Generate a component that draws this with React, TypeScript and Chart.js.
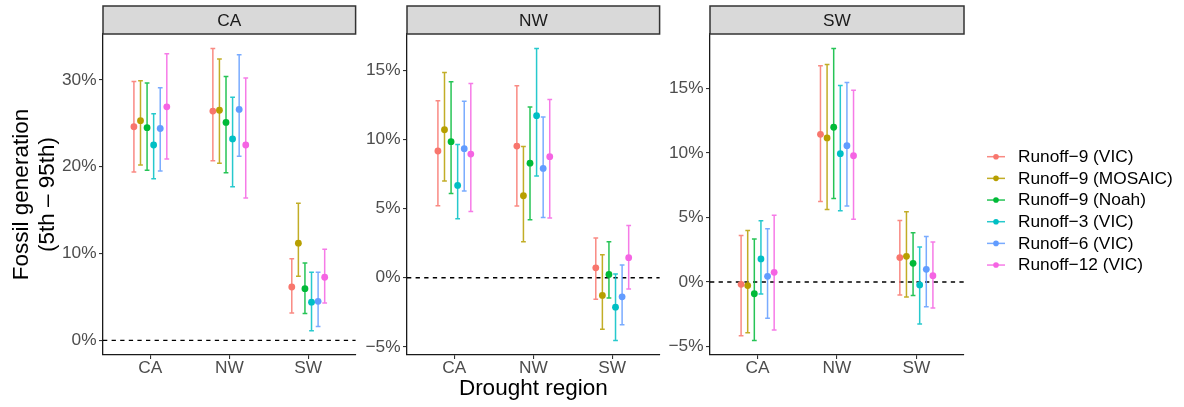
import React, { useEffect, useRef } from "react";
import { Chart, registerables } from "chart.js";

Chart.register(...registerables);

// ---------- data ----------
const regions = ["CA", "NW", "SW"]; // x-axis categories (drought region)
const panelTitles = ["CA", "NW", "SW"]; // facet strips

const seriesNames = [
  "Runoff\u22129 (VIC)",
  "Runoff\u22129 (MOSAIC)",
  "Runoff\u22129 (Noah)",
  "Runoff\u22123 (VIC)",
  "Runoff\u22126 (VIC)",
  "Runoff\u221212 (VIC)",
];
const seriesColors = ["#F8766D", "#B79F00", "#00BA38", "#00BFC4", "#619CFF", "#F564E3"];
const barColors = [
  "rgba(248,118,109,0.85)",
  "rgba(183,159,0,0.85)",
  "rgba(0,186,56,0.85)",
  "rgba(0,191,196,0.85)",
  "rgba(97,156,255,0.85)",
  "rgba(245,100,227,0.85)",
];

// Panel CA — rows: series, cols: regions [CA, NW, SW]
const caMid = [
  [24.6, 26.4, 6.15],
  [25.3, 26.5, 11.2],
  [24.5, 25.1, 5.96],
  [22.5, 23.2, 4.4],
  [24.4, 26.6, 4.5],
  [26.9, 22.5, 7.27],
];
const caLow = [
  [19.4, 20.7, 3.15],
  [20.2, 20.4, 7.4],
  [19.6, 19.3, 3.1],
  [18.6, 17.7, 1.1],
  [19.5, 21.2, 1.6],
  [20.9, 16.4, 4.3],
];
const caHigh = [
  [29.8, 33.6, 9.4],
  [29.9, 32.4, 15.8],
  [29.65, 30.4, 8.9],
  [26.1, 28.0, 7.85],
  [29.1, 32.9, 7.85],
  [33.0, 30.2, 10.5],
];

// Panel NW
const nwMid = [
  [9.18, 9.54, 0.72],
  [10.72, 5.94, -1.28],
  [9.86, 8.3, 0.24],
  [6.69, 11.74, -2.13],
  [9.35, 7.92, -1.38],
  [8.96, 8.77, 1.45],
];
const nwLow = [
  [5.22, 5.2, -1.55],
  [7.0, 2.6, -3.74],
  [6.1, 4.2, -1.47],
  [4.28, 7.37, -4.54],
  [6.28, 4.37, -3.4],
  [4.8, 4.32, -0.82],
];
const nwHigh = [
  [12.83, 13.9, 2.87],
  [14.86, 9.5, 1.67],
  [14.2, 12.37, 2.6],
  [9.66, 16.6, 0.27],
  [12.78, 11.64, 0.92],
  [14.08, 12.92, 3.79],
];

// Panel SW
const swMid = [
  [-0.18, 11.45, 1.89],
  [-0.28, 11.17, 1.99],
  [-0.91, 12.0, 1.45],
  [1.79, 9.95, -0.23],
  [0.44, 10.57, 0.98],
  [0.75, 9.79, 0.49],
];
const swLow = [
  [-4.17, 6.24, -1.01],
  [-3.94, 5.62, -1.17],
  [-4.53, 6.48, -1.04],
  [-0.93, 5.52, -3.26],
  [-2.82, 5.9, -1.92],
  [-3.73, 4.87, -2.02],
];
const swHigh = [
  [3.6, 16.76, 4.77],
  [3.99, 16.87, 5.44],
  [3.34, 18.1, 3.81],
  [4.74, 15.23, 2.72],
  [4.12, 15.47, 3.52],
  [5.18, 14.87, 3.1],
];

const caTicks = [0, 10, 20, 30];
const nwTicks = [-5, 0, 5, 10, 15];
const swTicks = [-5, 0, 5, 10, 15];

const yTitle = ["Fossil generation", "(5th \u2013 95th)"];
const xTitle = "Drought region";

// ---------- styling ----------
const FONT = "'Liberation Sans', Arial, Helvetica, sans-serif";
const TICK_SIZE = 17.3;
const TITLE_SIZE = 22.5;
const DODGE = 0.5;
const CAP_HALF = 0.03;

type PanelCfg = {
  title: string;
  mid: number[][];
  low: number[][];
  high: number[][];
  ticks: number[];
  canvasLeft: number;
  canvasWidth: number;
  yAxisW: number;
  padRight: number;
  showYTitle: boolean;
  showXTitle: boolean;
  legend: boolean;
};

const panels: PanelCfg[] = [
  {
    title: panelTitles[0], mid: caMid, low: caLow, high: caHigh, ticks: caTicks,
    canvasLeft: 0, canvasWidth: 359, yAxisW: 103, padRight: 2,
    showYTitle: true, showXTitle: false, legend: false,
  },
  {
    title: panelTitles[1], mid: nwMid, low: nwLow, high: nwHigh, ticks: nwTicks,
    canvasLeft: 359, canvasWidth: 304, yAxisW: 48, padRight: 2,
    showYTitle: false, showXTitle: true, legend: false,
  },
  {
    title: panelTitles[2], mid: swMid, low: swLow, high: swHigh, ticks: swTicks,
    canvasLeft: 663, canvasWidth: 521, yAxisW: 47, padRight: 220,
    showYTitle: false, showXTitle: false, legend: true,
  },
];

const decorPlugin = {
  id: "panelDecor",
  beforeDatasetsDraw(chart: any) {
    const { ctx, chartArea, scales } = chart;
    const xs = scales.x;
    const ys = scales.y;
    ctx.save();
    // dashed zero reference line
    const y0 = ys.getPixelForValue(0);
    ctx.strokeStyle = "#000";
    ctx.lineWidth = 1.4;
    ctx.setLineDash([4.3, 4.3]);
    ctx.beginPath();
    ctx.moveTo(chartArea.left, y0);
    ctx.lineTo(chartArea.right, y0);
    ctx.stroke();
    ctx.setLineDash([]);
    // error bars
    chart.data.datasets.forEach((ds: any) => {
      ctx.strokeStyle = ds.barColor;
      ctx.lineWidth = 1.5;
      ds.data.forEach((pt: any, i: number) => {
        const px = xs.getPixelForValue(pt.x);
        const cw = xs.getPixelForValue(pt.x + CAP_HALF) - px;
        const yl = ys.getPixelForValue(ds.lows[i]);
        const yh = ys.getPixelForValue(ds.highs[i]);
        ctx.beginPath();
        ctx.moveTo(px, yl);
        ctx.lineTo(px, yh);
        ctx.moveTo(px - cw, yl);
        ctx.lineTo(px + cw, yl);
        ctx.moveTo(px - cw, yh);
        ctx.lineTo(px + cw, yh);
        ctx.stroke();
      });
    });
    ctx.restore();
  },
  afterDraw(chart: any, _args: any, opts: any) {
    const { ctx, chartArea } = chart;
    ctx.save();
    // facet strip
    const top = 6;
    const h = chartArea.top - top;
    ctx.fillStyle = "#D9D9D9";
    ctx.fillRect(chartArea.left, top, chartArea.right - chartArea.left, h);
    ctx.strokeStyle = "#333333";
    ctx.lineWidth = 1.5;
    ctx.strokeRect(chartArea.left, top, chartArea.right - chartArea.left, h);
    ctx.fillStyle = "#1A1A1A";
    ctx.font = `${TICK_SIZE}px ${FONT}`;
    ctx.textAlign = "center";
    ctx.textBaseline = "middle";
    ctx.fillText(opts.title, (chartArea.left + chartArea.right) / 2, top + h / 2 + 0.8);

    // legend
    if (opts.legend) {
      const keyX = chartArea.right + 32;
      const textX = chartArea.right + 54;
      chart.data.datasets.forEach((ds: any, i: number) => {
        const y = 156.7 + i * 21.67;
        ctx.strokeStyle = ds.barColor;
        ctx.lineWidth = 1.5;
        ctx.beginPath();
        ctx.moveTo(keyX - 9, y);
        ctx.lineTo(keyX + 9, y);
        ctx.stroke();
        ctx.fillStyle = ds.backgroundColor;
        ctx.beginPath();
        ctx.arc(keyX, y, 2.8, 0, Math.PI * 2);
        ctx.fill();
        ctx.fillStyle = "#000";
        ctx.font = `${TICK_SIZE}px ${FONT}`;
        ctx.textAlign = "left";
        ctx.textBaseline = "middle";
        ctx.fillText(ds.label, textX, y + 0.5);
      });
    }
    ctx.restore();
  },
};

function makeChart(canvas: HTMLCanvasElement, cfg: PanelCfg) {
  const n = seriesNames.length;
  const datasets = seriesNames.map((name, s) => {
    const off = (s - (n - 1) / 2) * (DODGE / n);
    return {
      label: name,
      data: regions.map((_, i) => ({ x: i + 1 + off, y: cfg.mid[s][i] })),
      lows: regions.map((_, i) => cfg.low[s][i]),
      highs: regions.map((_, i) => cfg.high[s][i]),
      backgroundColor: seriesColors[s],
      borderColor: seriesColors[s],
      barColor: barColors[s],
      pointRadius: 3.4,
      pointHoverRadius: 3.4,
      pointBorderWidth: 0,
    };
  });

  let lo = 0;
  let hi = 0;
  cfg.low.forEach((r) => r.forEach((v) => (lo = Math.min(lo, v))));
  cfg.high.forEach((r) => r.forEach((v) => (hi = Math.max(hi, v))));
  const pad = (hi - lo) * 0.05;

  return new Chart(canvas, {
    type: "scatter",
    data: { datasets: datasets as any },
    options: {
      responsive: false,
      animation: false,
      events: [],
      layout: { padding: { top: 34, right: cfg.padRight, left: 0, bottom: 0 } },
      plugins: {
        legend: { display: false },
        tooltip: { enabled: false },
        panelDecor: { title: cfg.title, legend: cfg.legend },
      } as any,
      scales: {
        x: {
          type: "linear",
          min: 0.4,
          max: 3.6,
          afterBuildTicks: (s: any) => {
            s.ticks = regions.map((_, i) => ({ value: i + 1 }));
          },
          afterFit: (s: any) => {
            s.height = 52;
          },
          ticks: {
            callback: (v: any) => regions[Math.round(v) - 1],
            font: { family: FONT, size: TICK_SIZE, lineHeight: 1 },
            color: "#4D4D4D",
            padding: 0.5,
            maxRotation: 0,
            autoSkip: false,
          },
          grid: {
            drawOnChartArea: false,
            drawTicks: true,
            tickLength: 4,
            color: "#333333",
            tickColor: "#333333",
            lineWidth: 1.1,
          },
          border: { display: true, color: "#1A1A1A", width: 1.3 },
          title: {
            display: cfg.showXTitle,
            text: xTitle,
            color: "#000",
            font: { family: FONT, size: TITLE_SIZE, lineHeight: 1.2 },
            padding: { top: 0, bottom: 5 },
          },
        },
        y: {
          type: "linear",
          min: lo - pad,
          max: hi + pad,
          afterBuildTicks: (s: any) => {
            s.ticks = cfg.ticks.map((v) => ({ value: v }));
          },
          afterFit: (s: any) => {
            s.width = cfg.yAxisW;
          },
          ticks: {
            callback: (v: any) => (v < 0 ? "\u2212" + Math.abs(v) : String(v)) + "%",
            font: { family: FONT, size: TICK_SIZE },
            color: "#4D4D4D",
            padding: 2.4,
            autoSkip: false,
          },
          grid: {
            drawOnChartArea: false,
            drawTicks: true,
            tickLength: 4,
            color: "#333333",
            tickColor: "#333333",
            lineWidth: 1.1,
          },
          border: { display: true, color: "#1A1A1A", width: 1.3 },
          title: {
            display: cfg.showYTitle,
            text: yTitle,
            color: "#000",
            font: { family: FONT, size: TITLE_SIZE, lineHeight: 1.15 },
            padding: { top: 8.5, bottom: 0 },
          },
        },
      },
    },
    plugins: [decorPlugin],
  } as any);
}

export default function App() {
  const r1 = useRef<HTMLCanvasElement>(null);
  const r2 = useRef<HTMLCanvasElement>(null);
  const r3 = useRef<HTMLCanvasElement>(null);
  const refs = [r1, r2, r3];

  useEffect(() => {
    const charts = panels.map((p, i) => makeChart(refs[i].current as HTMLCanvasElement, p));
    return () => charts.forEach((c) => c.destroy());
  }, []);

  return (
    <div
      style={{
        position: "absolute",
        left: 0,
        top: 0,
        width: 1184,
        height: 407,
        background: "#ffffff",
        overflow: "hidden",
      }}
    >
      {panels.map((p, i) => (
        <canvas
          key={i}
          ref={refs[i]}
          width={p.canvasWidth}
          height={407}
          style={{
            position: "absolute",
            left: p.canvasLeft,
            top: 0,
            width: p.canvasWidth,
            height: 407,
          }}
        />
      ))}
    </div>
  );
}
